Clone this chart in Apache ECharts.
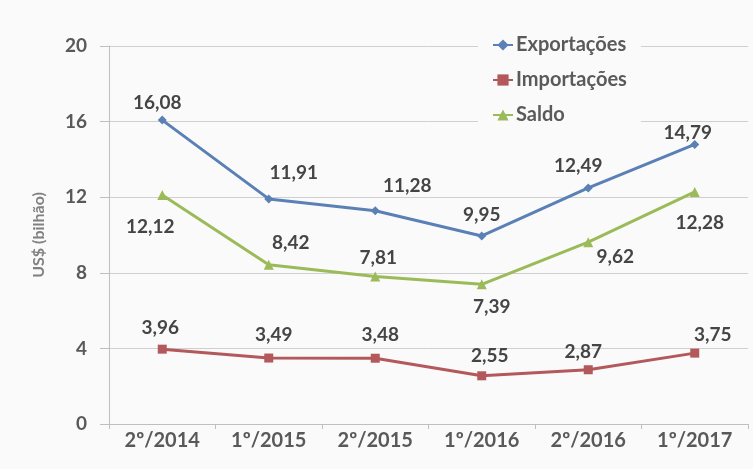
<!DOCTYPE html>
<html>
<head>
<meta charset="utf-8">
<script src="https://cdn.jsdelivr.net/npm/echarts@6/dist/echarts.min.js"></script>
<style>html,body{margin:0;padding:0;background:#fafafa}#c{width:753px;height:469px}</style>
</head>
<body>
<div id="c"></div>
<script>
const categories = ['2º/2014', '1º/2015', '2º/2015', '1º/2016', '2º/2016', '1º/2017'];
const exportacoes = [16.08, 11.91, 11.28, 9.95, 12.49, 14.79];
const importacoes = [3.96, 3.49, 3.48, 2.55, 2.87, 3.75];
const saldo = [12.12, 8.42, 7.81, 7.39, 9.62, 12.28];
const yTicks = { min: 0, max: 20, interval: 4 };

// label offsets (styling only)
const offExp = [[-5,-17],[25,-26],[32,-25],[0,-21],[-10,-22],[-7,-12]];
const offImp = [[-2,-21],[5,-23],[5,-23],[8,-20],[-5,-18],[18,-18]];
const offSal = [[-12,32],[22,-22],[3,-19],[10,23],[27,15],[5,31]];

const fmt = v => v.toFixed(2).replace('.', ',');
const FONT = 'Lato';
const labelBase = { show: true, position: 'inside', fontFamily: FONT, fontWeight: 'bold', fontSize: 19, color: '#454545', formatter: p => fmt(p.value) };

function mk(name, vals, offs, color, symbol) {
  return {
    name, type: 'line', data: vals.map((v, i) => ({ value: v, label: { offset: offs[i] } })),
    symbol, symbolSize: symbol === 'triangle' ? 10 : 9,
    lineStyle: { color, width: 3 }, itemStyle: { color },
    label: labelBase, z: 3
  };
}

const chart = echarts.init(document.getElementById('c'));
chart.setOption({
  backgroundColor: '#fafafa',
  animation: false,
  textStyle: { fontFamily: FONT },
  grid: { left: 109, right: 5, top: 46, bottom: 45, containLabel: false },
  legend: {
    orient: 'vertical', left: 478, top: 31, padding: [4, 14, 6, 14], itemGap: 15,
    backgroundColor: '#fafafa', itemWidth: 20, itemHeight: 14,
    textStyle: { fontFamily: FONT, fontWeight: 'bold', fontSize: 20, lineHeight: 20, color: '#5a5a5a', padding: [0, 0, 0, -2] },
    data: ['Exportações', 'Importações', 'Saldo'], z: 10
  },
  xAxis: {
    type: 'category', data: categories, boundaryGap: true,
    axisLine: { lineStyle: { color: '#bfbfbf', width: 1 } },
    axisTick: { show: true, length: 5, lineStyle: { color: '#bfbfbf' } },
    axisLabel: { fontFamily: FONT, fontWeight: 'bold', fontSize: 20, color: '#595959', margin: 7 }
  },
  yAxis: {
    type: 'value', min: yTicks.min, max: yTicks.max, interval: yTicks.interval,
    name: 'US$ (bilhão)', nameLocation: 'middle', nameGap: 62, nameRotate: 90,
    nameTextStyle: { fontFamily: FONT, fontWeight: 'bold', fontSize: 16, color: '#808080' },
    axisLine: { show: true, lineStyle: { color: '#bfbfbf', width: 1 } },
    axisTick: { show: true, length: 9, lineStyle: { color: '#bfbfbf' } },
    splitLine: { lineStyle: { color: '#cfcfcf', width: 1 } },
    axisLabel: { fontFamily: FONT, fontWeight: 'bold', fontSize: 19, color: '#595959', margin: 22 }
  },
  series: [
    mk('Exportações', exportacoes, offExp, '#5a80b6', 'diamond'),
    mk('Importações', importacoes, offImp, '#b3585b', 'rect'),
    mk('Saldo', saldo, offSal, '#9bbb59', 'triangle')
  ]
});
</script>
</body>
</html>
